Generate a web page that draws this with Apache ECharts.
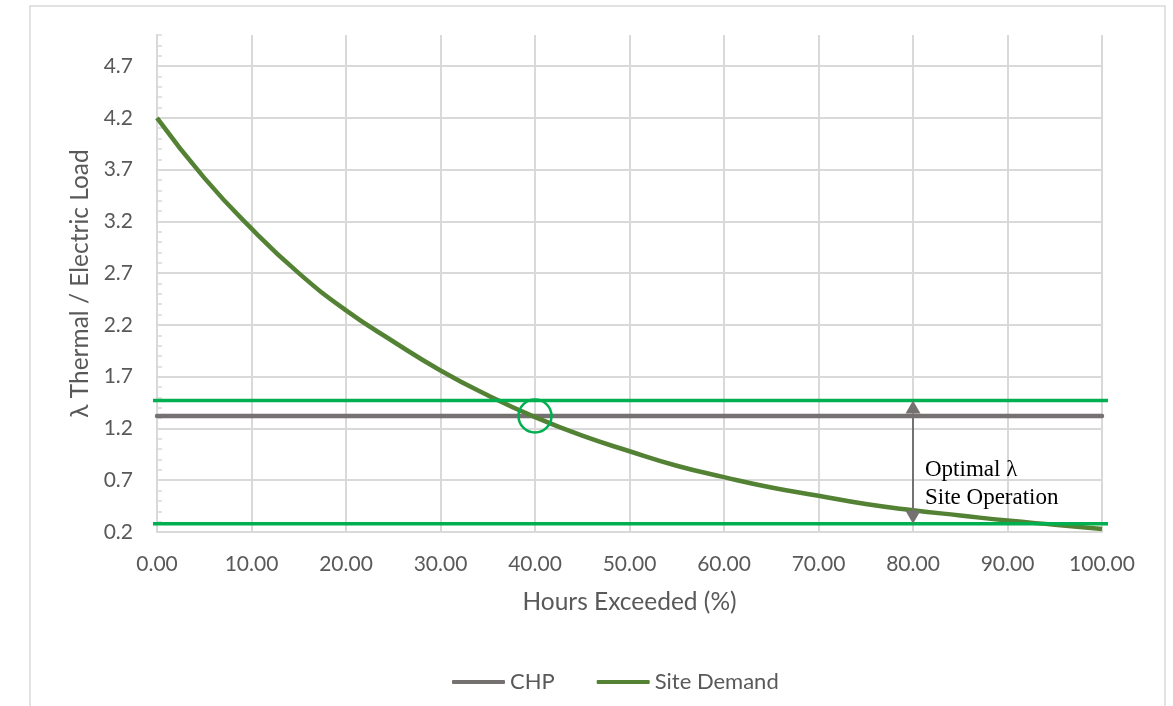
<!DOCTYPE html>
<html>
<head>
<meta charset="utf-8">
<title>Thermal / Electric Load Duration</title>
<script src="https://cdn.jsdelivr.net/npm/echarts@6/dist/echarts.min.js"></script>
<style>
  html, body { margin: 0; padding: 0; background: #ffffff; }
  #chart { width: 1173px; height: 706px; }
</style>
</head>
<body>
<div id="chart"></div>
<script>
// Hours exceeded (%) and the site's thermal/electric load ratio
const hoursExceeded = [0, 5, 10, 15, 20, 25, 30, 35, 40, 45, 50, 55, 60, 65, 70, 75, 80, 85, 90, 95, 100];
const siteDemand = [4.20, 3.62, 3.13, 2.70, 2.34, 2.04, 1.76, 1.52, 1.31, 1.13, 0.98, 0.84, 0.73, 0.63, 0.55, 0.47, 0.41, 0.36, 0.31, 0.27, 0.23];

// CHP design ratio (flat across the year)
const chpHours = [0, 100];
const chpRatio = [1.32, 1.32];

// Optimal operating band limits
const bandLimits = [1.47, 0.28];

// Point where the CHP ratio meets site demand
const crossingPoint = [40, 1.32];

// Vertical arrow marking the optimal band
const bandArrow = [80, 1.47, 0.28];
const bandText = ['Optimal λ', 'Site Operation'];

// Axis settings
const xTicks = { min: 0, max: 100, step: 10 };
const yTicks = { min: 0.2, max: 5.0, step: 0.5, minorStep: 0.1 };

const FONT = 'Lato, "Open Sans", sans-serif';
const TEXT = '#595959';
const GRID = '#d9d9d9';
const BAND = '#00b050';

const chart = echarts.init(document.getElementById('chart'), null, { renderer: 'canvas' });

const option = {
  backgroundColor: '#ffffff',
  animation: false,
  textStyle: { fontFamily: FONT },
  graphic: [{
    type: 'rect',
    shape: { x: 30, y: 6, width: 1135, height: 720 },
    style: { fill: 'none', stroke: GRID, lineWidth: 1.5 },
    silent: true,
    z: -10
  }],
  grid: { left: 157, right: 71, top: 35, bottom: 174, containLabel: false },
  legend: {
    data: ['CHP', 'Site Demand'],
    left: 452,
    top: 671,
    padding: 0,
    icon: 'roundRect',
    itemWidth: 53,
    itemHeight: 4,
    itemGap: 42,
    textStyle: { color: TEXT, fontSize: 22, fontFamily: FONT }
  },
  xAxis: {
    type: 'value',
    min: xTicks.min,
    max: xTicks.max,
    interval: xTicks.step,
    name: 'Hours Exceeded (%)',
    nameLocation: 'middle',
    nameGap: 58,
    nameTextStyle: { color: TEXT, fontSize: 24.5, fontFamily: FONT },
    axisLine: { show: true, lineStyle: { color: GRID, width: 2 } },
    axisTick: { show: false },
    axisLabel: {
      color: TEXT, fontSize: 21, fontFamily: FONT, margin: 22,
      formatter: v => v.toFixed(2)
    },
    splitLine: { show: true, lineStyle: { color: GRID, width: 2 } }
  },
  yAxis: [{
    type: 'value',
    position: 'left',
    min: yTicks.min,
    max: yTicks.max,
    interval: yTicks.step,
    name: 'λ Thermal / Electric Load',
    nameLocation: 'middle',
    nameGap: 64,
    nameTextStyle: { color: TEXT, fontSize: 24.5, fontFamily: FONT },
    axisLine: { show: true, lineStyle: { color: GRID, width: 2 } },
    axisTick: { show: false },
    axisLabel: {
      color: TEXT, fontSize: 21, fontFamily: FONT, margin: 24,
      showMaxLabel: false,
      formatter: v => v.toFixed(1)
    },
    splitLine: { show: true, showMaxLine: false, lineStyle: { color: GRID, width: 2 } }
  }, {
    // minor tick marks every 0.1 along the value axis
    type: 'value',
    position: 'left',
    min: yTicks.min,
    max: yTicks.max,
    interval: yTicks.minorStep,
    axisLine: { show: false },
    axisTick: { show: true, inside: true, length: 5, lineStyle: { color: GRID, width: 1.5 } },
    axisLabel: { show: false },
    splitLine: { show: false }
  }],
  series: [
    {
      name: 'CHP',
      type: 'line',
      data: chpHours.map((h, i) => [h, chpRatio[i]]),
      symbol: 'none',
      color: '#767171',
      lineStyle: { width: 4.5, color: '#767171', cap: 'round' },
      z: 2
    },
    {
      name: 'Site Demand',
      type: 'line',
      data: hoursExceeded.map((h, i) => [h, siteDemand[i]]),
      symbol: 'none',
      smooth: true,
      color: '#548235',
      lineStyle: { width: 4.5, color: '#548235' },
      z: 3
    },
    {
      name: 'band',
      type: 'custom',
      clip: false,
      z: 4,
      silent: true,
      data: bandLimits.map(v => [v]),
      renderItem: (params, api) => {
        const v = api.value(0);
        const a = api.coord([xTicks.min, v]);
        const b = api.coord([xTicks.max, v]);
        return {
          type: 'line',
          shape: { x1: a[0] - 4, y1: a[1], x2: b[0] + 6, y2: b[1] },
          style: { stroke: BAND, lineWidth: 3.5 }
        };
      }
    },
    {
      name: 'crossing',
      type: 'custom',
      clip: false,
      z: 5,
      silent: true,
      data: [crossingPoint],
      renderItem: (params, api) => {
        const p = api.coord([api.value(0), api.value(1)]);
        return {
          type: 'circle',
          shape: { cx: p[0], cy: p[1], r: 16.5 },
          style: { fill: 'none', stroke: BAND, lineWidth: 2.5 }
        };
      }
    },
    {
      name: 'arrow',
      type: 'custom',
      clip: false,
      z: 6,
      silent: true,
      data: [bandArrow],
      renderItem: (params, api) => {
        const x = api.value(0);
        const top = api.coord([x, api.value(1)]);
        const bot = api.coord([x, api.value(2)]);
        const hw = 7.5, hh = 13;
        const col = '#767171';
        return {
          type: 'group',
          children: [
            {
              type: 'line',
              shape: { x1: top[0], y1: top[1] + hh, x2: bot[0], y2: bot[1] - hh },
              style: { stroke: col, lineWidth: 2 }
            },
            {
              type: 'polygon',
              shape: { points: [[top[0], top[1]], [top[0] - hw, top[1] + hh], [top[0] + hw, top[1] + hh]] },
              style: { fill: col }
            },
            {
              type: 'polygon',
              shape: { points: [[bot[0], bot[1]], [bot[0] - hw, bot[1] - hh], [bot[0] + hw, bot[1] - hh]] },
              style: { fill: col }
            },
            {
              type: 'text',
              x: bot[0] + 12,
              y: bot[1] - 12,
              style: {
                text: bandText.join('\n'),
                fill: '#000000',
                font: '23px "Liberation Serif", "Times New Roman", serif',
                lineHeight: 28,
                align: 'left',
                verticalAlign: 'bottom'
              }
            }
          ]
        };
      }
    }
  ]
};

chart.setOption(option);
</script>
</body>
</html>
